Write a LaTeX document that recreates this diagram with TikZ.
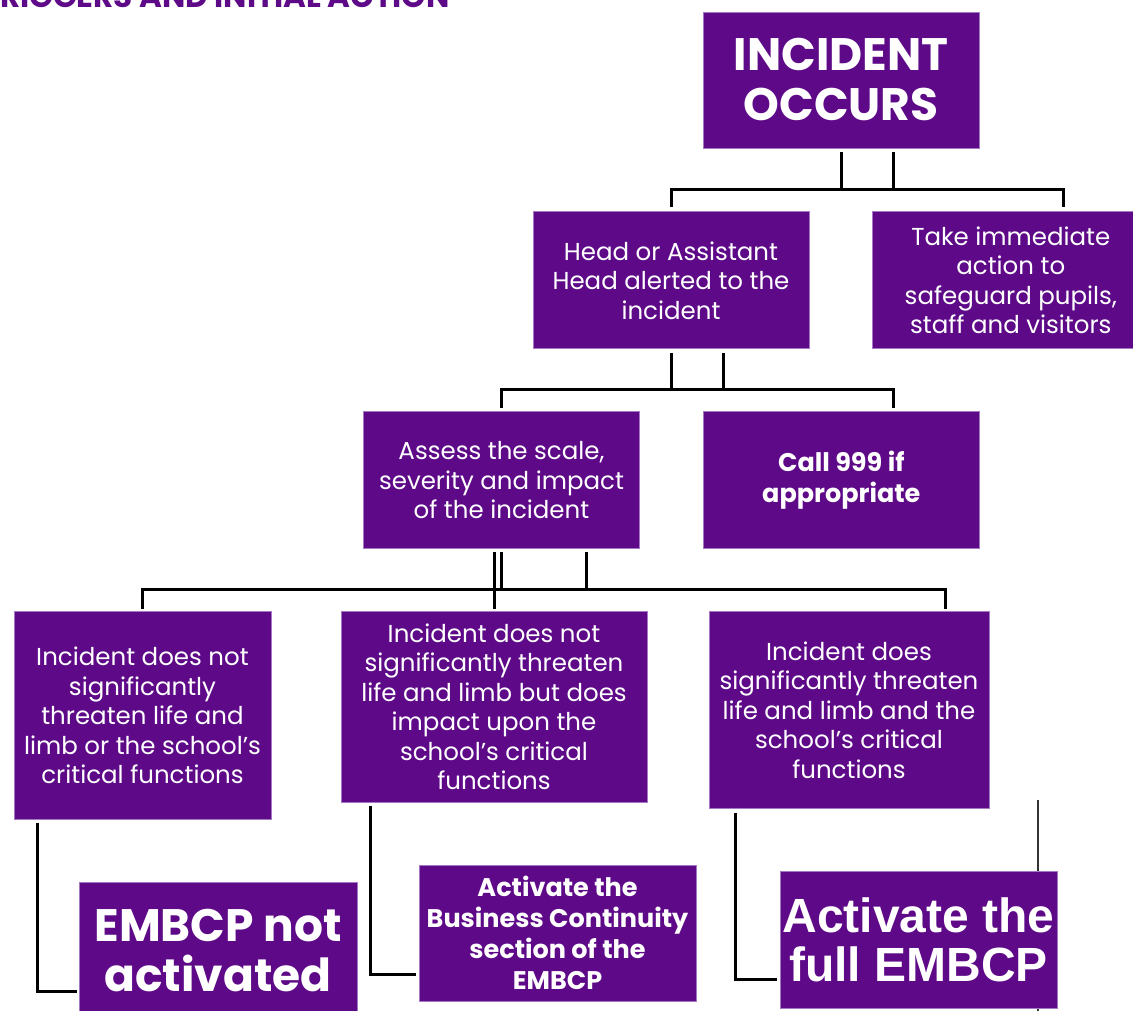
\documentclass[tikz,border=0pt]{standalone}
\usepackage{fontspec}
\setmainfont{Poppins}
\newfontfamily\arialfont{Liberation Sans}
\usepackage{tikz}
\usetikzlibrary{positioning, calc}

\definecolor{incpurple}{RGB}{94,10,136}
\definecolor{incedge}{RGB}{165,120,195}

\begin{document}
\begin{tikzpicture}[
    x=1pt, y=1pt,
    stage/.style={rectangle, draw=incedge, line width=0.8pt, fill=incpurple, text=white, align=center, inner sep=0pt, minimum width=276pt, minimum height=137pt, font=\fontsize{24.5}{29.5}\selectfont},
    stagebold/.style={stage, font=\fontsize{25.5}{31}\selectfont\bfseries},
    stagebig/.style={stage, font=\fontsize{45.5}{50}\selectfont\bfseries},
    link/.style={line width=3pt},
    stray/.style={line width=1.5pt, black!80}
]
    \useasboundingbox (0,0) rectangle (1133,-1011);

    % loose line behind the last box
    \coordinate (straytop) at (1038,-800);
    \coordinate (straybot) at (1038,-1020);
    \draw[stray] (straytop) -- (straybot);

    \node[anchor=base west, inner sep=0pt, text=incpurple, font=\fontsize{31}{31}\selectfont\bfseries] (title) at (0,-8) {RIGGERS AND INITIAL ACTION};

    \node[stagebig, minimum height=136pt] (incident) at (841,-80) {INCIDENT\\OCCURS};
    \node[stage, below=63pt of incident, xshift=-170pt] (head) {Head or Assistant\\Head alerted to the\\incident};
    \node[stage, right=63pt of head] (take) {Take immediate\\action to\\safeguard pupils,\\staff and visitors};
    \node[stage, below=62pt of head, xshift=-169.5pt] (assess) {Assess the scale,\\severity and impact\\of the incident};
    \node[stagebold, right=63pt of assess] (call) {Call 999 if\\appropriate};

    \node[stage, below=62pt of assess, xshift=-359pt, minimum width=257pt, minimum height=208pt] (notsig) {Incident does not\\significantly\\threaten life and\\limb or the school’s\\critical functions};
    \node[stage, below=62pt of assess, xshift=-7.5pt, minimum width=306pt, minimum height=191pt] (critical) {Incident does not\\significantly threaten\\life and limb but does\\impact upon the\\school’s critical\\functions};
    \node[stage, below=62pt of assess, xshift=347.5pt, minimum width=280pt, minimum height=197pt] (threat) {Incident does\\significantly threaten\\life and limb and the\\school’s critical\\functions};

    \node[stagebig, below=62pt of notsig, xshift=75.5pt, minimum width=278pt, minimum height=136pt] (notact) {EMBCP not\\activated};
    \node[stagebold, below=62pt of critical, xshift=63.5pt, minimum width=277pt, minimum height=136pt] (bcp) {Activate the\\Business Continuity\\section of the\\EMBCP};
    \node[stage, below=62pt of threat, xshift=69.5pt, minimum width=277pt, font=\arialfont\bfseries\fontsize{48}{48.5}\selectfont] (full) {Activate the\\full EMBCP};

    % incident -> first actions
    \coordinate (bar1) at ($(incident.south)+(0,-41)$);
    \draw[link] ([yshift=-4pt]incident.south) -- (bar1);
    \draw[link] ([xshift=52pt,yshift=-4pt]incident.south) -- ([xshift=52pt]bar1);
    \draw[link] ([yshift=4pt]head.north) |- (bar1) -| ([xshift=53pt,yshift=4pt]take.north);

    % head -> assessment
    \coordinate (bar2) at ($(head.south)+(0,-40)$);
    \draw[link] ([yshift=-4pt]head.south) -- (bar2);
    \draw[link] ([xshift=52pt,yshift=-4pt]head.south) -- ([xshift=52pt]bar2);
    \draw[link] ([yshift=3pt]assess.north) |- (bar2) -| ([xshift=52pt,yshift=3pt]call.north);

    % assessment -> three outcomes
    \coordinate (bar3) at ($(assess.south)+(0,-40)$);
    \draw[link] ([yshift=-3pt]assess.south) -- (bar3);
    \draw[link] ([xshift=85pt,yshift=-3pt]assess.south) -- ([xshift=85pt]bar3);
    \draw[link] ([yshift=2pt]critical.north) -- ++(0,57);
    \draw[link] ([yshift=2pt]notsig.north) |- (bar3) -| ([xshift=96pt,yshift=2pt]threat.north);

    % outcomes -> plan
    \draw[link] ([xshift=24pt,yshift=-3pt]notsig.south west) |- ([xshift=-2pt,yshift=-41pt]notact.west);
    \draw[link] ([xshift=30pt,yshift=-3pt]critical.south west) |- ([xshift=-3pt,yshift=-41pt]bcp.west);
    \draw[link] ([xshift=27pt,yshift=-4pt]threat.south west) |- ([xshift=-3pt,yshift=-40pt]full.west);
\end{tikzpicture}
\end{document}
